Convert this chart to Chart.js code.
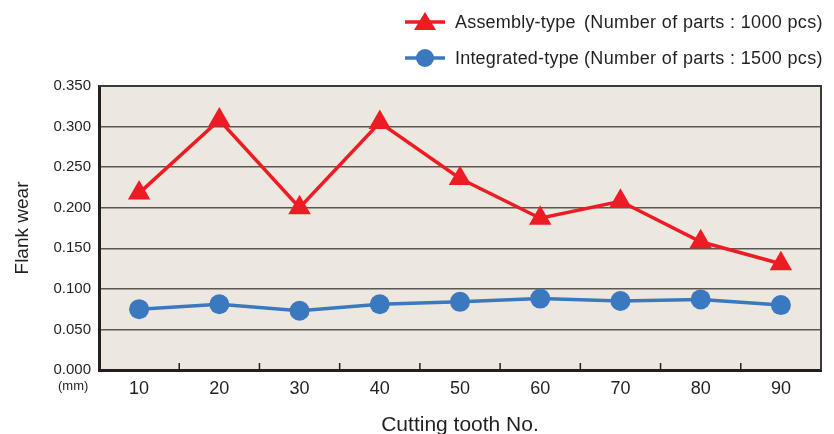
<!DOCTYPE html>
<html>
<head>
<meta charset="utf-8">
<script src="https://cdn.jsdelivr.net/npm/chart.js@4"></script>
<style>
  html, body { margin: 0; padding: 0; background: #fff; }
  #wrap { position: relative; width: 834px; height: 434px; font-family: "Liberation Sans", Arial, sans-serif; color: #231f20; }
  canvas { position: absolute; left: 0; top: 0; }
  .leg { position: absolute; left: 405px; width: 429px; height: 22px; font-size: 18px; line-height: 22px; white-space: nowrap; }
  .leg svg { position: absolute; left: 0; top: 1px; }
  .leg .name { position: absolute; left: 50px; top: 0; letter-spacing: 0.2px; }
  .leg .parts { position: absolute; left: 179px; top: 0; letter-spacing: 0.35px; }
  #mm { position: absolute; left: 58px; top: 378px; font-size: 13px; }
</style>
</head>
<body>
<div id="wrap">
  <canvas id="myChart" width="834" height="434"></canvas>
  <div class="leg" style="top:11px">
    <svg width="44" height="20"><line x1="0" y1="10" x2="40" y2="10" stroke="#ed1c24" stroke-width="3.5"/><polygon points="20,0 31,18 9,18" fill="#ed1c24"/></svg>
    <span class="name">Assembly-type</span><span class="parts">(Number of parts : 1000 pcs)</span>
  </div>
  <div class="leg" style="top:47px">
    <svg width="44" height="20"><line x1="0" y1="10" x2="40" y2="10" stroke="#3a78bf" stroke-width="3.5"/><circle cx="20" cy="10" r="9" fill="#3a78bf"/></svg>
    <span class="name">Integrated-type</span><span class="parts">(Number of parts : 1500 pcs)</span>
  </div>
  <div id="mm">(mm)</div>
</div>
<script>
const toothNo = ['10', '20', '30', '40', '50', '60', '70', '80', '90'];
const assemblyWear = [0.218, 0.308, 0.200, 0.305, 0.236, 0.187, 0.208, 0.158, 0.131];
const integratedWear = [0.075, 0.081, 0.073, 0.081, 0.084, 0.088, 0.085, 0.087, 0.080];
const yTicks = [0, 0.05, 0.1, 0.15, 0.2, 0.25, 0.3, 0.35];

// beige plot background, frame and inner tick marks between categories
const plotFrame = {
  id: 'plotFrame',
  beforeDraw(chart) {
    const { ctx, chartArea: a } = chart;
    ctx.save();
    ctx.fillStyle = '#ede8df';
    ctx.fillRect(a.left, a.top, a.right - a.left, a.bottom - a.top);
    ctx.restore();
  },
  afterDatasetsDraw(chart) {
    const { ctx, chartArea: a } = chart;
    const x = chart.scales.x;
    ctx.save();
    ctx.strokeStyle = '#231f20';
    ctx.lineWidth = 1.5;
    for (let i = 1; i < toothNo.length; i++) {
      const px = (x.getPixelForValue(i - 1) + x.getPixelForValue(i)) / 2;
      ctx.beginPath();
      ctx.moveTo(px, a.bottom);
      ctx.lineTo(px, a.bottom - 7);
      ctx.stroke();
    }
    ctx.strokeStyle = '#3a3a3a';
    ctx.lineWidth = 2;
    ctx.beginPath();
    ctx.moveTo(a.left, a.top);
    ctx.lineTo(a.right, a.top);
    ctx.lineTo(a.right, a.bottom);
    ctx.stroke();
    ctx.restore();
  }
};

new Chart(document.getElementById('myChart'), {
  type: 'line',
  data: {
    labels: toothNo,
    datasets: [
      {
        label: 'Assembly-type (Number of parts : 1000 pcs)',
        data: assemblyWear,
        borderColor: '#ed1c24',
        backgroundColor: '#ed1c24',
        borderWidth: 3.5,
        pointStyle: 'triangle',
        pointRadius: 13,
        pointBorderWidth: 0,
        tension: 0
      },
      {
        label: 'Integrated-type (Number of parts : 1500 pcs)',
        data: integratedWear,
        borderColor: '#3a78bf',
        backgroundColor: '#3a78bf',
        borderWidth: 3.5,
        pointStyle: 'circle',
        pointRadius: 10,
        pointBorderWidth: 0,
        tension: 0
      }
    ]
  },
  options: {
    responsive: false,
    animation: false,
    layout: { padding: { top: 86, right: 12, left: 0, bottom: 0 } },
    plugins: { legend: { display: false }, tooltip: { enabled: false } },
    scales: {
      x: {
        offset: true,
        afterFit: s => { s.height = 64; },
        grid: { display: false, drawTicks: false },
        border: { color: '#231f20', width: 3 },
        ticks: { color: '#231f20', padding: 8, font: { family: 'Liberation Sans', size: 18 } },
        title: { display: true, text: 'Cutting tooth No.', color: '#231f20', padding: { top: 0, bottom: -4 }, font: { family: 'Liberation Sans', size: 21 } }
      },
      y: {
        min: 0,
        max: 0.35,
        afterFit: s => { s.width = 99; },
        afterBuildTicks: s => { s.ticks = yTicks.map(v => ({ value: v })); },
        grid: { color: '#5a5753', lineWidth: 1.5, drawTicks: false },
        border: { color: '#231f20', width: 3 },
        ticks: { color: '#231f20', padding: 8, font: { family: 'Liberation Sans', size: 15 }, callback: v => v.toFixed(3) },
        title: { display: true, text: 'Flank wear', color: '#231f20', padding: { top: 11, bottom: 0 }, font: { family: 'Liberation Sans', size: 19 } }
      }
    }
  },
  plugins: [plotFrame]
});
</script>
</body>
</html>
